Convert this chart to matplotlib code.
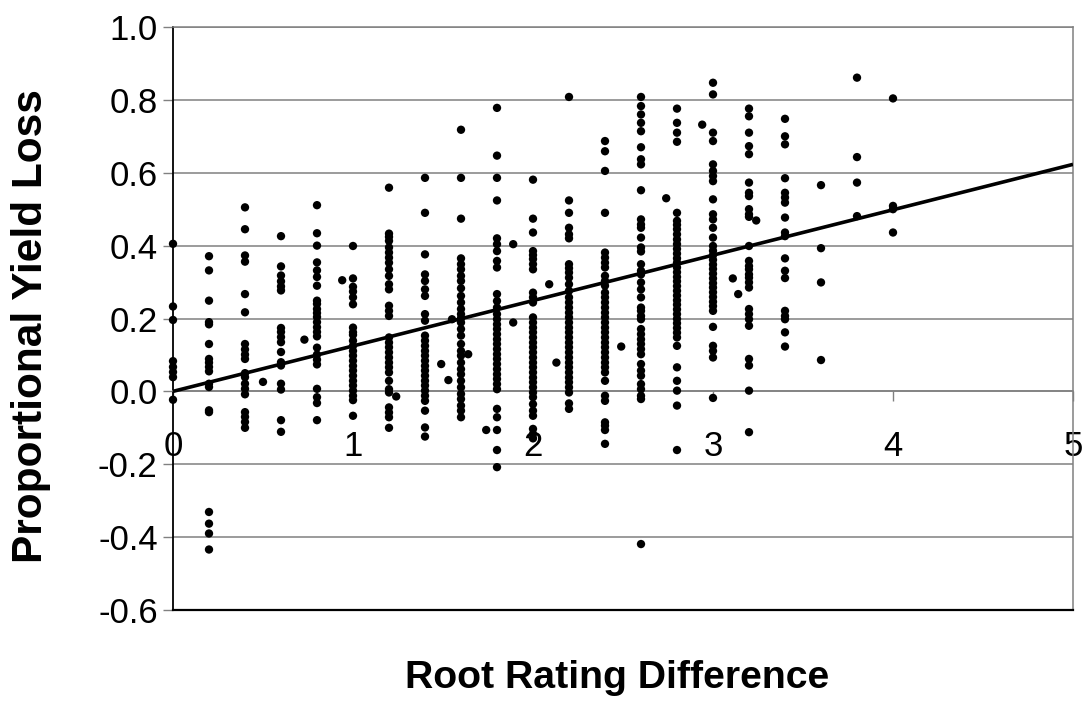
import numpy as np
import matplotlib
matplotlib.use("Agg")
import matplotlib.pyplot as plt

# ---- data: proportional yield loss observed at each root rating difference ----
col_x = [0.0, 0.2, 0.4, 0.6, 0.8, 1.0, 1.2, 1.4, 1.6, 1.8, 2.0, 2.2, 2.4, 2.6,
         2.8, 3.0, 3.2, 3.4, 3.6, 3.8, 4.0]

y_00 = [0.405, 0.233, 0.196, 0.083, 0.067, 0.053, 0.039, -0.023]
y_02 = [0.371, 0.332, 0.249, 0.190, 0.184, 0.130, 0.089, 0.079, 0.067, 0.055,
        0.021, 0.012, -0.052, -0.057, -0.331, -0.363, -0.390, -0.434]
y_04 = [0.505, 0.445, 0.373, 0.356, 0.267, 0.217, 0.130, 0.115, 0.101, 0.089,
        0.050, 0.039, 0.021, 0.007, -0.008, -0.057, -0.070, -0.084, -0.100]
y_06 = [0.426, 0.343, 0.318, 0.302, 0.288, 0.277, 0.174, 0.163, 0.149, 0.135,
        0.108, 0.080, 0.071, 0.021, 0.005, -0.079, -0.111]
y_08 = [0.511, 0.434, 0.400, 0.354, 0.332, 0.314, 0.290, 0.249, 0.240, 0.226,
        0.215, 0.204, 0.190, 0.176, 0.163, 0.151, 0.120, 0.101, 0.087, 0.074,
        0.007, -0.016, -0.032, -0.079]
y_10 = [0.399, 0.310, 0.287, 0.274, 0.258, 0.239, 0.175, 0.162, 0.155, 0.139,
        0.125, 0.111, 0.098, 0.084, 0.070, 0.057, 0.043, 0.029, 0.016, 0.002,
        -0.012, -0.024, -0.067]
y_12 = [0.559, 0.433, 0.424, 0.413, 0.395, 0.381, 0.367, 0.353, 0.335, 0.317,
        0.294, 0.280, 0.235, 0.221, 0.207, 0.148, 0.134, 0.121, 0.107, 0.093,
        0.079, 0.066, 0.052, 0.029, 0.006, -0.003, -0.044, -0.058, -0.071, -0.100]
y_14 = [0.586, 0.490, 0.376, 0.321, 0.303, 0.280, 0.262, 0.212, 0.194, 0.153,
        0.139, 0.125, 0.111, 0.098, 0.084, 0.070, 0.057, 0.043, 0.029, 0.016,
        0.002, -0.012, -0.026, -0.053, -0.099, -0.124]
y_16 = [0.718, 0.586, 0.474, 0.365, 0.349, 0.335, 0.317, 0.303, 0.283, 0.262,
        0.244, 0.226, 0.212, 0.201, 0.189, 0.171, 0.153, 0.130, 0.111, 0.098,
        0.079, 0.061, 0.047, 0.029, 0.011, -0.007, -0.021, -0.039, -0.053, -0.071]
y_18 = [0.778, 0.647, 0.586, 0.524, 0.420, 0.404, 0.385, 0.358, 0.340, 0.267,
        0.248, 0.230, 0.212, 0.198, 0.184, 0.171, 0.157, 0.143, 0.130, 0.116,
        0.102, 0.089, 0.075, 0.061, 0.047, 0.034, 0.020, 0.006, -0.048, -0.071,
        -0.106, -0.161, -0.208]
y_20 = [0.581, 0.474, 0.436, 0.385, 0.374, 0.363, 0.349, 0.335, 0.271, 0.258,
        0.244, 0.203, 0.189, 0.175, 0.162, 0.148, 0.134, 0.121, 0.107, 0.093,
        0.079, 0.066, 0.052, 0.038, 0.025, 0.011, -0.003, -0.016, -0.035, -0.053,
        -0.067, -0.103, -0.117, -0.129]
y_22 = [0.808, 0.524, 0.490, 0.449, 0.431, 0.420, 0.349, 0.338, 0.326, 0.312,
        0.294, 0.276, 0.258, 0.244, 0.230, 0.216, 0.203, 0.189, 0.175, 0.162,
        0.148, 0.134, 0.121, 0.107, 0.093, 0.079, 0.066, 0.052, 0.038, 0.025,
        0.011, -0.003, -0.033, -0.048]
y_24 = [0.687, 0.659, 0.605, 0.490, 0.381, 0.367, 0.353, 0.340, 0.317, 0.303,
        0.290, 0.271, 0.258, 0.244, 0.230, 0.216, 0.203, 0.189, 0.175, 0.162,
        0.148, 0.134, 0.121, 0.107, 0.093, 0.079, 0.066, 0.052, 0.029, -0.012,
        -0.026, -0.085, -0.094, -0.106, -0.144]
y_26 = [0.808, 0.783, 0.760, 0.737, 0.714, 0.670, 0.637, 0.623, 0.552, 0.472,
        0.458, 0.449, 0.422, 0.395, 0.384, 0.349, 0.331, 0.321, 0.299, 0.280,
        0.258, 0.230, 0.221, 0.207, 0.198, 0.171, 0.157, 0.143, 0.130, 0.116,
        0.102, 0.075, 0.057, 0.043, 0.020, 0.006, -0.012, -0.021, -0.419]
y_28 = [0.776, 0.737, 0.710, 0.685, 0.490, 0.468, 0.457, 0.445, 0.431, 0.417,
        0.404, 0.391, 0.378, 0.365, 0.353, 0.340, 0.327, 0.314, 0.302, 0.289,
        0.276, 0.263, 0.250, 0.238, 0.225, 0.212, 0.199, 0.187, 0.174, 0.161,
        0.148, 0.125, 0.066, 0.029, 0.002, -0.039, -0.161]
y_30 = [0.847, 0.815, 0.710, 0.687, 0.623, 0.605, 0.591, 0.577, 0.527, 0.486,
        0.472, 0.449, 0.422, 0.399, 0.386, 0.374, 0.361, 0.348, 0.336, 0.323,
        0.310, 0.297, 0.285, 0.272, 0.259, 0.246, 0.234, 0.221, 0.177, 0.125,
        0.111, 0.093, -0.018]
y_32 = [0.776, 0.755, 0.710, 0.673, 0.651, 0.573, 0.545, 0.536, 0.500, 0.486,
        0.479, 0.399, 0.358, 0.344, 0.335, 0.321, 0.312, 0.299, 0.285, 0.226,
        0.212, 0.198, 0.180, 0.089, 0.071, 0.002, -0.112]
y_34 = [0.748, 0.700, 0.678, 0.585, 0.545, 0.532, 0.518, 0.477, 0.436, 0.426,
        0.365, 0.331, 0.311, 0.221, 0.207, 0.198, 0.162, 0.123]
y_36 = [0.566, 0.393, 0.299, 0.086]
y_38 = [0.861, 0.643, 0.573, 0.481]
y_40 = [0.804, 0.509, 0.500, 0.436]

col_y = [y_00, y_02, y_04, y_06, y_08, y_10, y_12, y_14, y_16, y_18, y_20,
         y_22, y_24, y_26, y_28, y_30, y_32, y_34, y_36, y_38, y_40]

# observations at intermediate rating differences
extra_x = [0.50, 0.73, 0.94, 1.24, 1.49, 1.53, 1.55, 1.64, 1.74, 1.89, 1.89,
           2.09, 2.13, 2.49, 2.74, 2.94, 3.11, 3.14, 3.24]
extra_y = [0.026, 0.142, 0.305, -0.014, 0.075, 0.031, 0.198, 0.102, -0.106,
           0.404, 0.189, 0.294, 0.079, 0.123, 0.530, 0.732, 0.310, 0.267, 0.469]

# fitted trend line
trend_x = [0.0, 5.0]
trend_y = [0.0, 0.623]

x_ticks = [0, 1, 2, 3, 4, 5]
y_ticks = [-0.6, -0.4, -0.2, 0.0, 0.2, 0.4, 0.6, 0.8, 1.0]

# ---- assemble ----
xs, ys = [], []
for xv, yl in zip(col_x, col_y):
    xs.extend([xv] * len(yl))
    ys.extend(yl)
xs.extend(extra_x)
ys.extend(extra_y)

plt.rcParams['font.family'] = ['Liberation Sans', 'DejaVu Sans']

fig = plt.figure(figsize=(10.85, 7.06), dpi=100)
ax = fig.add_axes([173 / 1085, 96 / 706, 900 / 1085, 583 / 706])

ax.set_xlim(x_ticks[0], x_ticks[-1])
ax.set_ylim(y_ticks[0], y_ticks[-1])

grid_c = '#808080'
ax.set_yticks(y_ticks)
ax.set_yticklabels([f"{v:.1f}" for v in y_ticks])
ax.set_xticks(x_ticks)
ax.set_xticklabels([str(v) for v in x_ticks])
ax.yaxis.grid(True, color=grid_c, lw=1.1)
ax.set_axisbelow(True)

ax.scatter(xs, ys, s=36, color='black', edgecolors='none', zorder=3, clip_on=False)
ax.plot(trend_x, trend_y, color='black', lw=2.6, zorder=4, solid_capstyle='butt')

# spines
ax.spines['left'].set_color('black')
ax.spines['left'].set_linewidth(1.3)
ax.spines['top'].set_color(grid_c)
ax.spines['right'].set_color(grid_c)
ax.spines['top'].set_linewidth(1.1)
ax.spines['right'].set_linewidth(1.1)
ax.spines['bottom'].set_position(('data', 0))
ax.spines['bottom'].set_color(grid_c)
ax.spines['bottom'].set_linewidth(1.1)
ax.axhline(ax.get_ylim()[0], color='black', lw=1.6, zorder=5, clip_on=False)

ax.tick_params(axis='y', direction='out', length=7, width=1.0, color=grid_c,
               labelsize=25, pad=4)
ax.tick_params(axis='x', direction='out', length=7, width=1.0, color=grid_c,
               labelsize=25, pad=21)

ax.set_xlabel('Root Rating Difference', fontsize=28.3, fontweight='bold')
ax.set_ylabel('Proportional Yield Loss', fontsize=30.5, fontweight='bold')
ax.xaxis.set_label_coords(0.493, -0.085)
ax.yaxis.set_label_coords(-0.136, 0.487)

fig.savefig('out.png', dpi=100, facecolor='white')
